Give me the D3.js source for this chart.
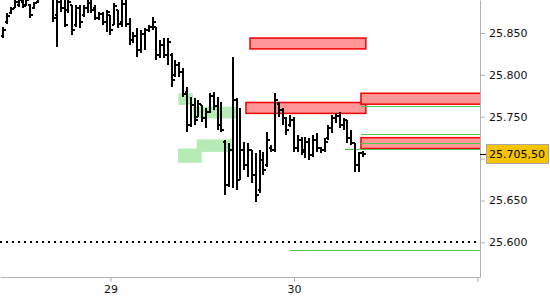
<!DOCTYPE html>
<html lang="de">
<head>
<meta charset="UTF-8">
<script src="https://cdn.jsdelivr.net/npm/d3@7"></script>
<style>
  body { margin: 0; background: #fff; }
  svg { display: block; font-family: "DejaVu Sans", Verdana, sans-serif; }
</style>
</head>
<body>
<div id="chart"></div>
<script>
// 30 minute bars, time in hours counted from the 28th 00:00
const firstHour = 10;
const barStep = 0.5;

const highs = [25857,25874,25881,25889,25892,25894,25893,25885,25887,25895,
  25907,25913,25904,25899,25897,25895,25894,25893,25883,25883,
  25883,25883,25889,25889,25883,25875,25875,25877,25871,25886,
  25877,25889,25889,25868,25851,25856,25854,25856,25860,25869,
  25857,25842,25844,25844,25826,25818,25815,25808,25786,25774,
  25772,25770,25764,25760,25778,25780,25774,25768,25722,25719,
  25821,25772,25760,25720,25719,25710,25707,25710,25708,25732,
  25716,25778,25768,25760,25750,25752,25750,25728,25726,25726,
  25725,25728,25731,25714,25725,25740,25752,25754,25756,25749,
  25746,25734,25719,25708,25709];
const lows = [25844,25861,25873,25880,25881,25880,25882,25868,25879,25886,
  25892,25895,25891,25863,25833,25875,25857,25874,25848,25857,
  25856,25869,25874,25874,25865,25865,25860,25851,25848,25860,
  25856,25857,25857,25836,25838,25821,25826,25830,25851,25854,
  25818,25820,25820,25812,25786,25797,25797,25774,25732,25738,
  25740,25750,25744,25737,25754,25758,25734,25732,25657,25666,
  25665,25663,25674,25686,25678,25671,25648,25659,25680,25690,
  25708,25708,25750,25740,25728,25738,25708,25708,25704,25701,
  25698,25702,25708,25707,25708,25722,25731,25743,25737,25734,
  25719,25716,25684,25684,25702];
const opens = [25846,25863,25874,25880,25883,25887,25883,25883,25880,25887,
  25894,25904,25899,25893,25871,25887,25880,25877,25883,25860,
  25880,25871,25880,25886,25880,25868,25873,25863,25871,25860,
  25877,25863,25885,25861,25842,25846,25830,25849,25854,25857,
  25857,25824,25836,25824,25824,25800,25812,25803,25780,25740,
  25764,25750,25764,25749,25756,25775,25763,25740,25720,25668,
  25710,25770,25674,25710,25692,25710,25680,25663,25698,25692,
  25713,25710,25765,25758,25749,25740,25746,25713,25722,25710,
  25720,25704,25722,25713,25710,25725,25737,25749,25751,25740,
  25746,25725,25719,25692,25707];
const closes = [25854,25870,25879,25887,25889,25882,25889,25871,25886,25893,
  25904,25899,25893,25868,25887,25880,25860,25887,25854,25880,
  25863,25880,25886,25877,25868,25873,25863,25875,25854,25882,
  25861,25885,25861,25842,25846,25830,25849,25854,25857,25863,
  25824,25836,25824,25839,25794,25812,25803,25777,25740,25764,
  25746,25765,25749,25756,25775,25763,25740,25734,25668,25710,
  25770,25674,25710,25692,25710,25680,25657,25698,25686,25722,
  25710,25770,25758,25749,25734,25746,25713,25722,25708,25720,
  25704,25722,25713,25710,25720,25737,25749,25751,25740,25746,
  25725,25719,25692,25707,25705.5];
const lastPrice = 25705.5;

// [from hour, to hour, low price, high price]
const greenZones = [[32.87, 34.75, 25764, 25778], [34.75, 40.5, 25748, 25762],
  [35.28, 39.85, 25708, 25723], [32.83, 35.93, 25695, 25712]];
const redZones = [[42.25, 57.4, 25831, 25844], [41.72, 57.4, 25754, 25767],
  [56.76, 73, 25765, 25778], [56.76, 73, 25712, 25725]];
// [from hour, price], run to the right edge
const greenLines = [[56.76, 25763], [56.76, 25729.5], [56.76, 25718.5], [54.67, 25712], [47.48, 25591]];
const dottedLevel = 25600;

const priceTicks = [25600, 25650, 25700, 25750, 25800, 25850];
const dayTicks = [24, 48, 72];
const dayLabels = ["29", "30", ""];

const times = d3.range(highs.length).map(i => firstHour + i * barStep);

const W = 550, H = 300, plotW = 480, plotH = 277;

const de = d3.formatLocale({decimal: ",", thousands: ".", grouping: [3], currency: ["", "€"]});

const x = d3.scaleLinear().domain([9.55, 72.33]).range([0, plotW]);
const y = d3.scaleLinear().domain([25558.6, 25889.4]).range([plotH, 0]);

const svg = d3.select("#chart").append("svg")
  .attr("width", W)
  .attr("height", H);

svg.append("clipPath").attr("id", "plot")
  .append("rect").attr("width", plotW).attr("height", plotH);

const plot = svg.append("g").attr("clip-path", "url(#plot)");

plot.append("g").selectAll("rect")
  .data(greenZones)
  .join("rect")
  .attr("x", d => x(d[0]))
  .attr("width", d => x(d[1]) - x(d[0]))
  .attr("y", d => y(d[3]))
  .attr("height", d => y(d[2]) - y(d[3]))
  .attr("fill", "#b6ebb6");

plot.append("g").selectAll("rect")
  .data(redZones)
  .join("rect")
  .attr("x", d => x(d[0]))
  .attr("width", d => x(d[1]) - x(d[0]))
  .attr("y", d => y(d[3]))
  .attr("height", d => y(d[2]) - y(d[3]))
  .attr("fill", "#ff9797")
  .attr("stroke", "#f00000")
  .attr("stroke-width", 1.5);

plot.append("g").selectAll("line")
  .data(greenLines)
  .join("line")
  .attr("x1", d => x(d[0]))
  .attr("x2", plotW)
  .attr("y1", d => Math.round(y(d[1])) + 0.5)
  .attr("y2", d => Math.round(y(d[1])) + 0.5)
  .attr("stroke", "#4ccc4c")
  .attr("stroke-width", 1);

plot.append("line")
  .attr("x1", 0).attr("x2", plotW)
  .attr("y1", Math.round(y(dottedLevel)))
  .attr("y2", Math.round(y(dottedLevel)))
  .attr("stroke", "#000")
  .attr("stroke-width", 2)
  .attr("stroke-dasharray", "2,4");

// OHLC bars
const bars = plot.append("g").attr("stroke", "#000").attr("shape-rendering", "crispEdges");
times.forEach((t, i) => {
  const cx = Math.round(x(t));
  bars.append("line")
    .attr("x1", cx).attr("x2", cx)
    .attr("y1", y(highs[i])).attr("y2", y(lows[i]))
    .attr("stroke-width", 2);
  bars.append("line")
    .attr("x1", cx - 2).attr("x2", cx)
    .attr("y1", y(opens[i])).attr("y2", y(opens[i]))
    .attr("stroke-width", 2);
  bars.append("line")
    .attr("x1", cx).attr("x2", cx + 3)
    .attr("y1", y(closes[i])).attr("y2", y(closes[i]))
    .attr("stroke-width", 2);
});

// axes; a tick label hidden under the last-price box gets no text
const ly = y(lastPrice);
const yAxis = svg.append("g")
  .attr("transform", `translate(${plotW},0)`)
  .call(d3.axisRight(y).tickValues(priceTicks)
    .tickFormat(d => Math.abs(y(d) - ly) < 12 ? "" : de.format(",.0f")(d))
    .tickSize(5).tickSizeOuter(0).tickPadding(4));

const xAxis = svg.append("g")
  .attr("transform", `translate(0,${plotH})`)
  .call(d3.axisBottom(x).tickValues(dayTicks).tickFormat((d, i) => dayLabels[i])
    .tickSize(5).tickSizeOuter(0).tickPadding(3));

[yAxis, xAxis].forEach(g => {
  g.attr("font-family", null).attr("font-size", 11);
  g.select(".domain").attr("stroke", "#b0b0b0");
  g.selectAll(".tick line").attr("stroke", "#b0b0b0");
  g.selectAll(".tick text").attr("fill", "#111");
});

// last price label
svg.append("line")
  .attr("x1", plotW).attr("x2", plotW + 6)
  .attr("y1", Math.round(ly) + 0.5).attr("y2", Math.round(ly) + 0.5)
  .attr("stroke", "#000");
svg.append("rect")
  .attr("x", 486.5).attr("y", Math.round(ly) - 9.5)
  .attr("width", 62).attr("height", 19)
  .attr("fill", "#f8c300")
  .attr("stroke", "#a8a8a8");
svg.append("text")
  .attr("x", 489).attr("y", ly)
  .attr("dy", "0.36em")
  .attr("font-size", 11)
  .attr("fill", "#000")
  .text(de.format(",.2f")(lastPrice));
</script>
</body>
</html>
